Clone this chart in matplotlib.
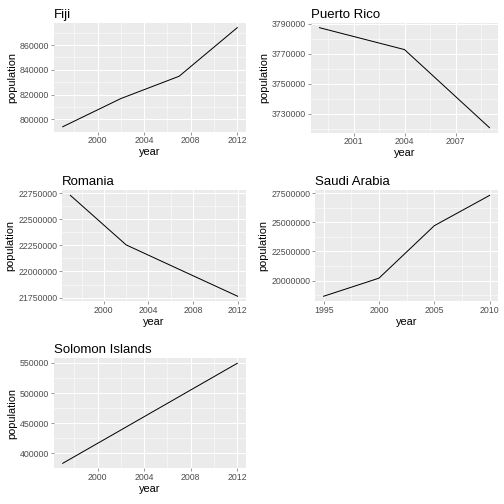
import matplotlib
matplotlib.use("Agg")
import matplotlib.pyplot as plt
from matplotlib.ticker import FixedLocator

plt.rcParams["font.family"] = ["Liberation Sans", "DejaVu Sans"]

# population by country
fiji_year = [1997, 2002, 2007, 2012]
fiji_pop = [794000, 816800, 834800, 874100]

pr_year = [1999, 2004, 2009]
pr_pop = [3787300, 3772700, 3720600]

romania_year = [1997, 2002, 2007, 2012]
romania_pop = [22727700, 22254000, 22008000, 21762600]

saudi_year = [1995, 2000, 2005, 2010]
saudi_pop = [18650000, 20200000, 24700000, 27300000]

solomon_year = [1997, 2002, 2007, 2012]
solomon_pop = [383100, 438500, 494000, 549500]

W = H = 504
fig = plt.figure(figsize=(W / 72, H / 72), dpi=72)

GRAY = "#EBEBEB"


def panel(box, title, years, pops, xmaj, xmin, ymaj, ymin):
    l, t, r, b = box
    ax = fig.add_axes([l / W, 1 - b / H, (r - l) / W, (b - t) / H])
    ax.set_facecolor(GRAY)
    ax.plot(years, pops, color="black", lw=1.0)
    x0, x1 = min(years), max(years)
    dx = (x1 - x0) * 0.05
    ax.set_xlim(x0 - dx, x1 + dx)
    y0, y1 = min(pops), max(pops)
    dy = (y1 - y0) * 0.05
    ax.set_ylim(y0 - dy, y1 + dy)
    ax.xaxis.set_major_locator(FixedLocator(xmaj))
    ax.xaxis.set_minor_locator(FixedLocator(xmin))
    ax.yaxis.set_major_locator(FixedLocator(ymaj))
    ax.yaxis.set_minor_locator(FixedLocator(ymin))
    ax.set_xticklabels([str(v) for v in xmaj])
    ax.set_yticklabels([str(v) for v in ymaj])
    ax.grid(which="major", color="white", lw=1.07)
    ax.grid(which="minor", color="white", lw=0.53)
    ax.set_axisbelow(True)
    for s in ax.spines.values():
        s.set_visible(False)
    ax.tick_params(which="major", length=2.75, width=0.5, color="#333333",
                   labelsize=8.8, labelcolor="#4D4D4D", pad=2)
    ax.tick_params(which="minor", length=0)
    ax.set_xlabel("year", fontsize=11, labelpad=2)
    ax.set_ylabel("population", fontsize=11, labelpad=3)
    ax.set_title(title, loc="left", fontsize=13.2, pad=5)
    return ax


panel((54, 22.7, 246, 131.7), "Fiji", fiji_year, fiji_pop,
      [2000, 2004, 2008, 2012], [1998, 2002, 2006, 2010],
      [800000, 820000, 840000, 860000], [790000, 810000, 830000, 850000, 870000])

panel((311, 22.7, 498, 132.7), "Puerto Rico", pr_year, pr_pop,
      [2001, 2004, 2007], [1999.5, 2002.5, 2005.5, 2008.5],
      [3730000, 3750000, 3770000, 3790000], [3720000, 3740000, 3760000, 3780000])

panel((62, 190.3, 246, 301.3), "Romania", romania_year, romania_pop,
      [2000, 2004, 2008, 2012], [1998, 2002, 2006, 2010],
      [21750000, 22000000, 22250000, 22500000, 22750000],
      [21875000, 22125000, 22375000, 22625000])

panel((315.3, 190.3, 498, 301.3), "Saudi Arabia", saudi_year, saudi_pop,
      [1995, 2000, 2005, 2010], [1997.5, 2002.5, 2007.5],
      [20000000, 22500000, 25000000, 27500000],
      [18750000, 21250000, 23750000, 26250000])

panel((54, 358.3, 246, 468.3), "Solomon Islands", solomon_year, solomon_pop,
      [2000, 2004, 2008, 2012], [1998, 2002, 2006, 2010],
      [400000, 450000, 500000, 550000], [375000, 425000, 475000, 525000])

fig.savefig("out.png", dpi=72)
